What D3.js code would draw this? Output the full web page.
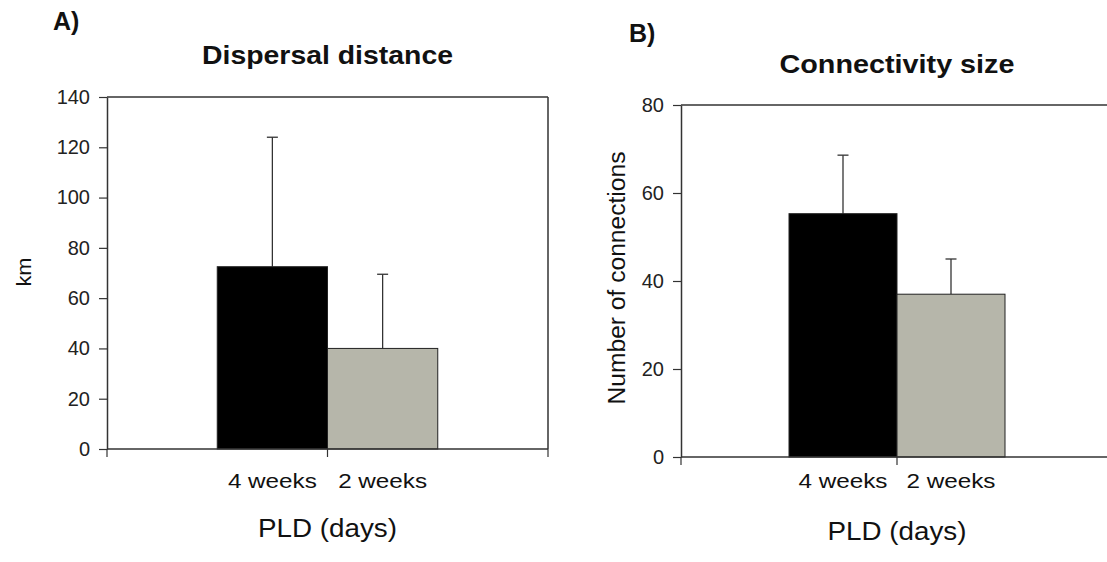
<!DOCTYPE html>
<html>
<head>
<meta charset="utf-8">
<script src="https://cdn.jsdelivr.net/npm/d3@7"></script>
<style>
  body { margin: 0; background: #fff; }
  svg { display: block; font-family: "Liberation Sans", Arial, sans-serif; }
</style>
</head>
<body>
<svg id="chart" width="1107" height="562"></svg>
<script>
const series = ["4 weeks", "2 weeks"];
const seriesColors = ["#000000", "#b6b6aa"];

const distanceMean = [72.5, 40];
const distanceUpper = [124, 69.5];
const distanceTicks = [0, 20, 40, 60, 80, 100, 120, 140];

const connMean = [55.3, 37];
const connUpper = [68.6, 45];
const connTicks = [0, 20, 40, 60, 80];

const svg = d3.select("#chart");

// text in the original is a bit wider than Liberation Sans, so stretch it
function stretched(sel, len) {
  return sel.attr("textLength", len).attr("lengthAdjust", "spacingAndGlyphs");
}

function drawPanel(o) {
  const g = svg.append("g");
  const {left, right, top, bottom} = o;

  const y = d3.scaleLinear().domain([0, o.yMax]).range([bottom, top]);
  const x0 = d3.scaleBand().domain(["PLD"]).range([left, right]);
  const mid = x0("PLD") + x0.bandwidth() / 2;
  const x1 = d3
    .scaleBand()
    .domain(series)
    .range([x0("PLD") + x0.bandwidth() * 0.25, x0("PLD") + x0.bandwidth() * 0.75]);

  // frame (top + right)
  g.append("line")
    .attr("x1", left).attr("x2", right)
    .attr("y1", top).attr("y2", top)
    .attr("stroke", "#333").attr("stroke-width", 1.5);
  g.append("line")
    .attr("x1", right).attr("x2", right)
    .attr("y1", top).attr("y2", bottom)
    .attr("stroke", "#333").attr("stroke-width", 1.5);

  // error bars (upper only)
  const capW = 11;
  series.forEach((s, i) => {
    const cx = x1(s) + x1.bandwidth() / 2;
    g.append("line")
      .attr("x1", cx).attr("x2", cx)
      .attr("y1", y(o.mean[i])).attr("y2", y(o.upper[i]))
      .attr("stroke", "#333").attr("stroke-width", 1.3);
    g.append("line")
      .attr("x1", cx - capW / 2).attr("x2", cx + capW / 2)
      .attr("y1", y(o.upper[i])).attr("y2", y(o.upper[i]))
      .attr("stroke", "#333").attr("stroke-width", 1.3);
  });

  // bars
  g.selectAll(".bar")
    .data(series)
    .enter()
    .append("rect")
    .attr("class", "bar")
    .attr("x", (d) => x1(d))
    .attr("y", (d, i) => y(o.mean[i]))
    .attr("width", x1.bandwidth())
    .attr("height", (d, i) => bottom - y(o.mean[i]))
    .attr("fill", (d, i) => seriesColors[i])
    .attr("stroke", "#222")
    .attr("stroke-width", 1);

  // y axis
  const yAxis = g.append("g")
    .attr("transform", `translate(${left},0)`)
    .call(d3.axisLeft(y).tickValues(o.ticks).tickSize(8).tickSizeOuter(0).tickPadding(9));
  yAxis.select(".domain").attr("stroke", "#333").attr("stroke-width", 1.5);
  yAxis.selectAll(".tick line").attr("stroke", "#333").attr("stroke-width", 1.2);
  yAxis.selectAll(".tick text")
    .attr("font-size", "20px").attr("fill", "#222")
    .attr("font-family", "Liberation Sans, Arial, sans-serif");

  // x axis, ticks at category boundaries
  g.append("line")
    .attr("x1", left).attr("x2", right)
    .attr("y1", bottom).attr("y2", bottom)
    .attr("stroke", "#333").attr("stroke-width", 1.5);
  [left, mid, right].forEach((tx) => {
    g.append("line")
      .attr("x1", tx).attr("x2", tx)
      .attr("y1", bottom).attr("y2", bottom + 8)
      .attr("stroke", "#333").attr("stroke-width", 1.2);
  });

  // series labels under the bars
  g.selectAll(".slabel")
    .data(series)
    .enter()
    .append("text")
    .attr("x", (d) => x1(d) + x1.bandwidth() / 2)
    .attr("y", o.seriesY)
    .attr("text-anchor", "middle")
    .attr("font-size", "21px")
    .attr("fill", "#111")
    .attr("textLength", 89)
    .attr("lengthAdjust", "spacingAndGlyphs")
    .text((d) => d);

  stretched(
    g.append("text")
      .attr("x", mid)
      .attr("y", o.xLabelY)
      .attr("text-anchor", "middle")
      .attr("font-size", "26px")
      .attr("fill", "#111")
      .text("PLD (days)"),
    139
  );

  stretched(
    g.append("text")
      .attr("transform", `translate(${o.yLabelX},${o.yLabelCY}) rotate(-90)`)
      .attr("text-anchor", "middle")
      .attr("font-size", o.yLabelSize)
      .attr("fill", "#111")
      .text(o.yLabel),
    o.yLabelLen
  );

  stretched(
    g.append("text")
      .attr("x", mid)
      .attr("y", o.titleY)
      .attr("text-anchor", "middle")
      .attr("font-size", "25px")
      .attr("font-weight", "bold")
      .attr("fill", "#111")
      .text(o.title),
    o.titleLen
  );

  g.append("text")
    .attr("x", o.tagX)
    .attr("y", o.tagY)
    .attr("font-size", "25px")
    .attr("font-weight", "bold")
    .attr("fill", "#111")
    .text(o.tag);
}

drawPanel({
  left: 107, right: 548, top: 97, bottom: 449,
  yMax: 140, ticks: distanceTicks,
  mean: distanceMean, upper: distanceUpper,
  title: "Dispersal distance", titleY: 64, titleLen: 251,
  tag: "A)", tagX: 53, tagY: 30,
  yLabel: "km", yLabelX: 31, yLabelCY: 272, yLabelSize: "21px", yLabelLen: 29,
  seriesY: 488, xLabelY: 537
});

drawPanel({
  left: 681, right: 1113, top: 105, bottom: 457,
  yMax: 80, ticks: connTicks,
  mean: connMean, upper: connUpper,
  title: "Connectivity size", titleY: 73, titleLen: 235,
  tag: "B)", tagX: 629, tagY: 42,
  yLabel: "Number of connections", yLabelX: 625, yLabelCY: 278, yLabelSize: "23px", yLabelLen: 253,
  seriesY: 488, xLabelY: 540
});
</script>
</body>
</html>
